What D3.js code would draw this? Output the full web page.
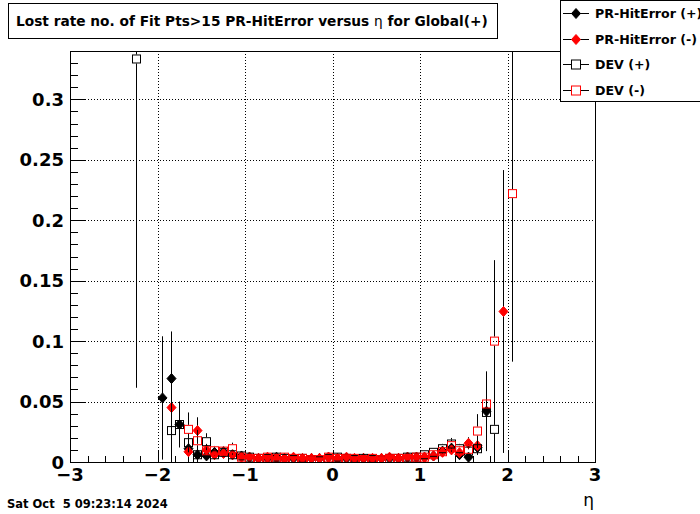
<!DOCTYPE html>
<html><head><meta charset="utf-8">
<script src="https://cdn.jsdelivr.net/npm/d3@7"></script>
<style>body{margin:0;background:#fff;}svg{display:block;}text{font-family:"DejaVu Sans",sans-serif;}</style>
</head><body>
<svg id="c" width="700" height="514"></svg>
<script>
// ---- data ----
const etaBins = [-2.25,-2.15,-2.05,-1.95,-1.85,-1.75,-1.65,-1.55,-1.45,-1.35,-1.25,-1.15,
  -1.05,-0.95,-0.85,-0.75,-0.65,-0.55,-0.45,-0.35,-0.25,-0.15,-0.05,0.05,0.15,0.25,0.35,0.45,0.55,0.65,0.75,0.85,0.95,
  1.05,1.15,1.25,1.35,1.45,1.55,1.65,1.75,1.85,1.95,2.05];
const prPlus = [null,null,null,0.053,0.069,0.031,0.011,0.006,0.005,0.008,0.0085,0.006,
  0.005,0.004,0.003,0.003,0.004,0.003,0.003,0.002,0.003,0.003,0.004,0.003,0.003,0.002,0.003,0.002,0.003,0.003,0.003,0.004,0.004,
  0.004,0.005,0.009,0.0115,0.006,0.004,0.012,0.042,null,null,null];
const prPlusErr = [null,null,null,0.051,0.039,0.019,0.011,0.006,0.004,0.004,0.003,0.003,
  0.001,0.001,0.001,0.001,0.001,0.001,0.001,0.001,0.001,0.001,0.001,0.001,0.001,0.001,0.001,0.001,0.001,0.001,0.001,0.001,0.001,
  0.002,0.002,0.003,0.004,0.003,0.004,0.006,0.033,null,null,null];
const prMinus = [null,null,null,null,0.045,null,0.0085,0.026,0.010,0.006,0.007,0.006,
  0.004,0.004,0.003,0.004,0.003,0.003,0.004,0.003,0.003,0.003,0.004,0.003,0.004,0.003,0.003,0.003,0.003,0.004,0.003,0.004,0.004,
  0.004,0.005,0.008,0.010,0.0077,0.0155,0.0135,null,null,0.1245,null];
const prMinusErr = [null,null,null,null,0.045,null,0.006,0.011,0.005,0.003,0.003,0.003,
  0.001,0.001,0.001,0.001,0.001,0.001,0.001,0.001,0.001,0.001,0.001,0.001,0.001,0.001,0.001,0.001,0.001,0.001,0.001,0.001,0.001,
  0.002,0.002,0.003,0.004,0.003,0.005,0.005,null,null,0.117,null];
const devPlus = [0.3334,null,null,null,0.026,0.031,0.016,0.006,0.0168,0.006,0.008,0.006,
  0.005,0.004,0.003,0.003,0.004,0.003,0.002,0.003,0.002,0.001,0.003,0.004,0.003,0.002,0.003,0.002,0.002,0.003,0.003,0.004,0.004,
  0.006,0.008,0.011,0.0149,0.011,0.009,0.011,0.041,0.027,null,null];
const devPlusErr = [0.272,null,null,null,0.026,0.015,0.008,0.004,0.007,0.003,0.003,0.003,
  0.001,0.001,0.001,0.001,0.001,0.001,0.001,0.001,0.001,0.001,0.001,0.001,0.001,0.001,0.001,0.001,0.001,0.001,0.001,0.001,0.001,
  0.002,0.003,0.004,0.005,0.004,0.004,0.005,0.020,0.040,null,null];
const devMinus = [null,null,null,null,null,null,0.027,0.0176,0.0093,0.0093,0.009,0.011,
  0.004,0.003,0.003,0.004,0.003,0.004,0.003,0.003,0.002,0.002,0.004,0.003,0.003,0.003,0.002,0.003,0.002,0.003,0.003,0.003,0.004,
  0.004,0.006,0.0085,0.0135,0.0093,0.0105,0.0256,0.048,0.100,null,0.222];
const devMinusErr = [null,null,null,null,null,null,0.014,0.009,0.005,0.004,0.004,0.005,
  0.001,0.001,0.001,0.001,0.001,0.001,0.001,0.001,0.001,0.001,0.001,0.001,0.001,0.001,0.001,0.001,0.001,0.001,0.001,0.001,0.001,
  0.002,0.002,0.003,0.005,0.004,0.004,0.014,0.025,0.067,null,0.139];
const xTicks = [-3,-2,-1,0,1,2,3];
const yTicks = [0,0.05,0.1,0.15,0.2,0.25,0.3];
const seriesNames = ["PR-HitError (+)","PR-HitError (-)","DEV (+)","DEV (-)"];
const titleText = "Lost rate no. of Fit Pts>15 PR-HitError versus ";
const titleTail = " for Global(+)";
const dateText = "Sat Oct  5 09:23:14 2024";

// ---- layout ----
const svg = d3.select("#c");
const L=70, R=595, T=51, B=462;
const x = d3.scaleLinear().domain([-3,3]).range([L,R]);
const y = d3.scaleLinear().domain([0,0.34]).range([B,T]);

svg.append("defs").append("clipPath").attr("id","clip")
  .append("rect").attr("x",L).attr("y",T).attr("width",R-L).attr("height",B-T);

// grid
const grid = svg.append("g").attr("stroke","#000").attr("stroke-width",1).attr("stroke-dasharray","1,2");
grid.selectAll("line.gx").data(xTicks.slice(1,-1)).join("line")
  .attr("x1",d=>Math.round(x(d))+0.5).attr("x2",d=>Math.round(x(d))+0.5).attr("y1",T).attr("y2",B);
grid.selectAll("line.gy").data(yTicks.slice(1)).join("line")
  .attr("y1",d=>Math.round(y(d))+0.5).attr("y2",d=>Math.round(y(d))+0.5).attr("x1",L).attr("x2",R);

// axes with ROOT-style inward ticks
const xMinor = d3.range(-3,3.0001,0.2);
const yMinor = d3.range(0,0.34,0.01);
const ax = svg.append("g").attr("stroke","#000").attr("stroke-width",1);
ax.selectAll("line.xm").data(xMinor).join("line")
  .attr("x1",d=>Math.round(x(d))+0.5).attr("x2",d=>Math.round(x(d))+0.5)
  .attr("y1",B).attr("y2",d=>B-(Math.abs(d-Math.round(d))<1e-6?12:6));
ax.selectAll("line.ym").data(yMinor).join("line")
  .attr("y1",d=>Math.round(y(d))+0.5).attr("y2",d=>Math.round(y(d))+0.5)
  .attr("x1",L).attr("x2",(d,i)=>L+(i%5===0?16:8));
svg.append("rect").attr("x",L+0.5).attr("y",T+0.5).attr("width",R-L).attr("height",B-T)
  .attr("fill","none").attr("stroke","#000");

// tick labels
svg.append("g").selectAll("text").data(xTicks).join("text")
  .attr("x",d=>x(d)).attr("y",481).attr("text-anchor","middle")
  .attr("font-size",18).attr("font-weight","bold")
  .text(d=>d<0?"\u2212"+Math.abs(d):String(d));
svg.append("g").selectAll("text").data(yTicks).join("text")
  .attr("x",64).attr("y",d=>y(d)+6.5).attr("text-anchor","end")
  .attr("font-size",18).attr("font-weight","bold")
  .text(d=>d3.format("~g")(d));

// axis title
svg.append("text").attr("x",594).attr("y",506).attr("text-anchor","end")
  .attr("font-size",17).text("\u03b7");

// data
const series = [
  {v:prPlus, e:prPlusErr, shape:"diamond", color:"#000"},
  {v:prMinus, e:prMinusErr, shape:"diamond", color:"#f00"},
  {v:devPlus, e:devPlusErr, shape:"square", color:"#000"},
  {v:devMinus, e:devMinusErr, shape:"square", color:"#f00"}
];
const plot = svg.append("g").attr("clip-path","url(#clip)");
const H = 4.5;
function drawMarker(g, cx, cy, s){
  if(s.shape==="diamond"){
    g.append("path").attr("d",`M${cx},${cy-H-0.5}L${cx+H},${cy}L${cx},${cy+H+0.5}L${cx-H},${cy}Z`)
      .attr("fill",s.color).attr("stroke",s.color).attr("stroke-width",1);
  } else {
    g.append("rect").attr("x",cx-H+0.5).attr("y",cy-H+0.5).attr("width",2*H-1).attr("height",2*H-1)
      .attr("fill","none").attr("stroke",s.color).attr("stroke-width",1);
  }
}
series.forEach(s=>{
  const g = plot.append("g");
  const pts = etaBins.map((eta,i)=>({eta, v:s.v[i], e:s.e[i]})).filter(p=>p.v!==null);
  // error bars (black), broken around marker
  pts.forEach(p=>{
    const cx = Math.round(x(p.eta))+0.5, cy = y(p.v);
    const top = y(p.v+p.e), bot = y(Math.max(0,p.v-p.e));
    if(top < cy-H) g.append("line").attr("x1",cx).attr("x2",cx).attr("y1",top).attr("y2",cy-H).attr("stroke","#000");
    if(bot > cy+H) g.append("line").attr("x1",cx).attr("x2",cx).attr("y1",cy+H).attr("y2",bot).attr("stroke","#000");
  });
  pts.forEach(p=>drawMarker(g, Math.round(x(p.eta))+0.5, y(p.v), s));
});

// title box
function fit(t, w){ const cur=t.node().getComputedTextLength(); const fs=+t.attr("font-size"); t.attr("font-size",fs*w/cur); }
svg.append("rect").attr("x",8.5).attr("y",3.5).attr("width",489).attr("height",35).attr("fill","#fff").attr("stroke","#000");
const tt = svg.append("text").attr("x",16).attr("y",26).attr("font-size",13).attr("font-weight","bold");
tt.append("tspan").text(titleText);
tt.append("tspan").attr("font-weight","normal").text("\u03b7");
tt.append("tspan").text(titleTail);
fit(tt, 472);

// legend
svg.append("rect").attr("x",560.5).attr("y",0.5).attr("width",160).attr("height",101).attr("fill","#fff").attr("stroke","#000");
const legY = [13,39,64,90];
seriesNames.forEach((n,i)=>{
  const gy = legY[i];
  const g = svg.append("g");
  g.append("line").attr("x1",563).attr("x2",589).attr("y1",gy+0.5).attr("y2",gy+0.5).attr("stroke","#000");
  if(series[i].shape==="square") g.append("rect").attr("x",571.5).attr("y",gy-4).attr("width",9).attr("height",9).attr("fill","#fff").attr("stroke",series[i].color);
  else drawMarker(g, 576, gy+0.5, series[i]);
  g.append("text").attr("x",595).attr("y",gy+5).attr("font-size",12.6).attr("font-weight","bold").text(n);
});

// date
const dt = svg.append("text").attr("x",7).attr("y",508).attr("font-size",11).attr("font-weight","bold")
  .style("white-space","pre").text(dateText);
fit(dt, 161);
</script>
</body></html>
